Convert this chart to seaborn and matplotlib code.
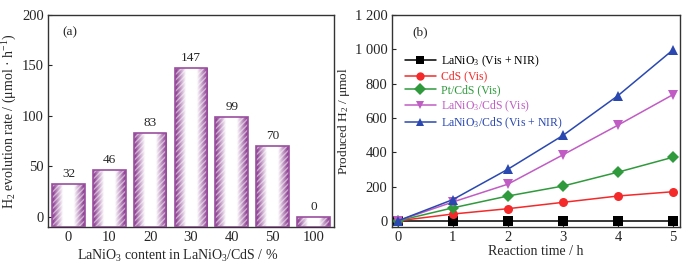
import numpy as np
import pandas as pd
import seaborn as sns
import matplotlib.pyplot as plt
from matplotlib.colors import LinearSegmentedColormap
from matplotlib.patches import Rectangle
from matplotlib.lines import Line2D
from matplotlib.ticker import FuncFormatter

# panel (a) data
contents = ["0", "10", "20", "30", "40", "50", "100"]
rates = [32, 46, 83, 147, 99, 70, 0]

# panel (b) data
hours = [0, 1, 2, 3, 4, 5]
h2_laniO3 = [0, 0, 0, 0, 0, 0]
h2_cds = [0, 40, 71, 108, 145, 170]
h2_pt_cds = [0, 76, 145, 203, 284, 371]
h2_lanio3_cds_vis = [0, 110, 214, 385, 558, 736]
h2_lanio3_cds_nir = [0, 124, 301, 498, 730, 997]
series_names = ["LaNiO$_3$ (Vis + NIR)", "CdS (Vis)", "Pt/CdS (Vis)",
                "LaNiO$_3$/CdS (Vis)", "LaNiO$_3$/CdS (Vis + NIR)"]
series_colors = ["#000000", "#f42a2a", "#2f9a3c", "#c05cc4", "#2a48b0"]
series_markers = ["s", "o", "D", "v", "^"]

sns.set_style("ticks")
plt.rcParams["font.family"] = ["Liberation Serif", "DejaVu Serif"]
plt.rcParams["mathtext.fontset"] = "custom"
plt.rcParams["mathtext.rm"] = "Liberation Serif"
plt.rcParams["mathtext.it"] = "Liberation Serif:italic"
plt.rcParams["xtick.direction"] = "in"
plt.rcParams["ytick.direction"] = "in"
plt.rcParams["axes.edgecolor"] = "#333333"

fig = plt.figure(figsize=(6.97, 2.66), dpi=100)
ax1 = fig.add_axes([0.069, 0.147, 0.410, 0.797])
ax2 = fig.add_axes([0.562, 0.147, 0.414, 0.797])

# ---- (a) bars with purple-white-purple gradient and hatching
purple = "#823088"
ylo = -10
sns.barplot(x=contents, y=rates, ax=ax1, width=0.8, color=purple)
cmap = LinearSegmentedColormap.from_list("pw", [purple, "#ffffff", "#ffffff", purple])
grad = np.linspace(0, 1, 200).reshape(1, -1)
for p in ax1.patches:
    top = p.get_y() + p.get_height()
    p.set_y(ylo)
    p.set_height(top - ylo)
    x0, w = p.get_x(), p.get_width()
    im = ax1.imshow(grad, cmap=cmap, aspect="auto", extent=[x0, x0 + w, ylo, top],
                    zorder=1, interpolation="bilinear")
    im.set_clip_path(p)
    p.set_facecolor("none")
    p.set_edgecolor((1, 1, 1, 0.5))
    p.set_hatch("//////")
    p.set_linewidth(0)
    p.set_zorder(2)
    ax1.add_patch(Rectangle((x0, ylo), w, top - ylo, facecolor="none",
                            edgecolor="#9b4ea0", linewidth=1.2, zorder=3))
for i, v in enumerate(rates):
    ax1.text(i, v + 4, str(v), ha="center", va="bottom", fontsize=9.5)
ax1.set_xlim(-0.5, 6.5)
ax1.set_ylim(ylo, 200)
ax1.set_yticks([0, 50, 100, 150, 200])
ax1.set_xlabel("LaNiO$_3$ content in LaNiO$_3$/CdS / %", fontsize=10)
ax1.xaxis.set_label_coords(0.455, -0.1)
ax1.set_ylabel("H$_2$ evolution rate / (μmol · h$^{-1}$)", fontsize=10, labelpad=2)
ax1.text(0.05, 0.92, "(a)", transform=ax1.transAxes, fontsize=9.5, va="center")

# ---- (b) lines
all_series = [h2_laniO3, h2_cds, h2_pt_cds, h2_lanio3_cds_vis, h2_lanio3_cds_nir]
df = pd.DataFrame({
    "time": hours * len(series_names),
    "h2": sum(all_series, []),
    "sample": [n for n in series_names for _ in hours],
})
sns.lineplot(data=df, x="time", y="h2", hue="sample", style="sample",
             hue_order=series_names, style_order=series_names,
             palette=series_colors, markers=series_markers, dashes=False,
             markersize=6.5, linewidth=1.1, markeredgewidth=0, ax=ax2, legend=False)
handles = [Line2D([], [], color=c, marker=m, markersize=6, markeredgewidth=0, linewidth=1.1)
           for c, m in zip(series_colors, series_markers)]
ax2.legend(handles, series_names, loc="upper left", bbox_to_anchor=(0.03, 0.84),
           frameon=False, fontsize=8.5, labelcolor=["#000000"] + series_colors[1:],
           handlelength=2.6, handletextpad=0.4, borderaxespad=0, labelspacing=0.15)
ax2.set_xlim(-0.11, 5.13)
ax2.set_ylim(-35, 1200)
ax2.set_xticks(hours)
ax2.set_yticks([0, 200, 400, 600, 800, 1000, 1200])
ax2.yaxis.set_major_formatter(FuncFormatter(lambda v, _: f"{v:,.0f}".replace(",", " ")))
ax2.set_xlabel("Reaction time / h", fontsize=10, labelpad=1)
ax2.set_ylabel("Produced H$_2$ / μmol", fontsize=9.5, labelpad=2)
ax2.text(0.07, 0.92, "(b)", transform=ax2.transAxes, fontsize=9.5, va="center")

for ax in (ax1, ax2):
    ax.tick_params(labelsize=10.5, length=3, width=0.8, pad=3)
    for s in ax.spines.values():
        s.set_linewidth(1.0)

fig.savefig("out.png", dpi=100)
